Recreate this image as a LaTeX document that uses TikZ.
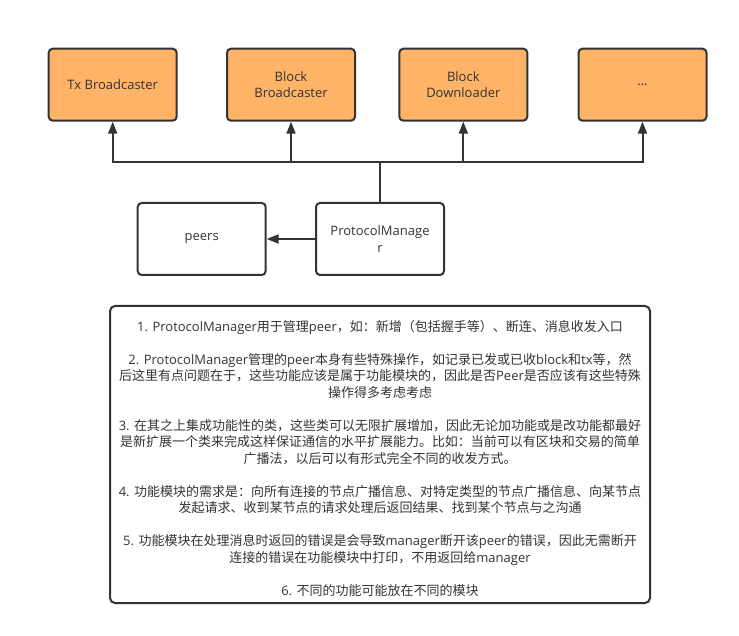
\documentclass[tikz,border=0pt]{standalone}
\usepackage{fontspec}
\setmainfont{Open Sans}
\newfontfamily\cjk{Noto Sans CJK SC}
\newcommand\zhs[1]{{\cjk #1}}
\usetikzlibrary{arrows.meta}
\definecolor{boxorange}{RGB}{255,179,102}
\definecolor{ink}{RGB}{51,51,51}
\begin{document}
\begin{tikzpicture}[x=1pt,y=-1pt,
  box/.style={draw=ink, line width=2pt, rounded corners=4pt, minimum width=128pt, minimum height=72pt, align=center, text=ink, font=\fontsize{13}{16.5}\selectfont, inner sep=2pt},
  module/.style={box, fill=boxorange},
  plain/.style={box, fill=white},
  conn/.style={draw=ink, line width=2pt},
  arr/.style={conn, -{Triangle[width=9pt,length=12pt]}},
  notestyle/.style={text=ink, align=center, font=\fontsize{13}{16.5}\selectfont, inner sep=0pt}]
\useasboundingbox (0,0) rectangle (739,636);
\node[module] (tx) at (112.7,84.7) {Tx Broadcaster};
\node[module] (bb) at (291,84.7) {Block\\Broadcaster};
\node[module] (bd) at (463.3,84.7) {Block\\Downloader};
\node[module] (more) at (642.5,84.7) {...};
\node[plain] (pm) at (380,239) {ProtocolManage\\r};
\node[plain] (peers) at (201.7,239) {peers};
\coordinate (bus) at (380,162.5);
\draw[conn] (pm.north) -- (bus);
\draw[arr] (bus) -| (tx.south);
\draw[arr] (bus) -| (bb.south);
\draw[arr] (bus) -| (bd.south);
\draw[arr] (bus) -| (more.south);
\draw[arr] (pm.west) -- (peers.east);
\node[draw=ink, line width=2pt, rounded corners=5pt, minimum width=540pt, minimum height=297pt] (notebox) at (380,454.5) {};
\node[notestyle] (notes) at (380,458) {%
1. ProtocolManager\zhs{用于管理}peer\zhs{，如：新增（包括握手等）、断连、消息收发入口}\\[16.5pt]
2. ProtocolManager\zhs{管理的}peer\zhs{本身有些特殊操作，如记录已发或已收}block\zhs{和}tx\zhs{等，然}\\
\zhs{后这里有点问题在于，这些功能应该是属于功能模块的，因此是否}Peer\zhs{是否应该有这些特殊}\\
\zhs{操作得多考虑考虑}\\[16.5pt]
3. \zhs{在其之上集成功能性的类，这些类可以无限扩展增加，因此无论加功能或是改功能都最好}\\
\zhs{是新扩展一个类来完成这样保证通信的水平扩展能力。比如：当前可以有区块和交易的简单}\\
\zhs{广播法，以后可以有形式完全不同的收发方式。}\\[16.5pt]
4. \zhs{功能模块的需求是：向所有连接的节点广播信息、对特定类型的节点广播信息、向某节点}\\
\zhs{发起请求、收到某节点的请求处理后返回结果、找到某个节点与之沟通}\\[16.5pt]
5. \zhs{功能模块在处理消息时返回的错误是会导致}manager\zhs{断开该}peer\zhs{的错误，因此无需断开}\\
\zhs{连接的错误在功能模块中打印，不用返回给}manager\\[16.5pt]
6. \zhs{不同的功能可能放在不同的模块}};
\end{tikzpicture}
\end{document}
